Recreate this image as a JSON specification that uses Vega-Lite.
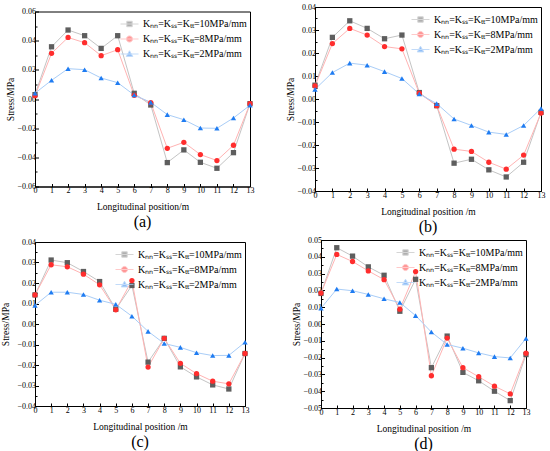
{
  "$schema": "https://vega.github.io/schema/vega-lite/v6.json",
  "padding": {"left": 0, "top": 2, "right": 5, "bottom": 0},
  "background": "white",
  "data": {"values": [
    {"p":"a","s":"k10","x":0,"y":0.003},{"p":"a","s":"k10","x":1,"y":0.0358},{"p":"a","s":"k10","x":2,"y":0.0473},{"p":"a","s":"k10","x":3,"y":0.0434},{"p":"a","s":"k10","x":4,"y":0.0347},{"p":"a","s":"k10","x":5,"y":0.0434},{"p":"a","s":"k10","x":6,"y":0.0039},{"p":"a","s":"k10","x":7,"y":-0.0041},{"p":"a","s":"k10","x":8,"y":-0.0436},{"p":"a","s":"k10","x":9,"y":-0.0349},{"p":"a","s":"k10","x":10,"y":-0.0434},{"p":"a","s":"k10","x":11,"y":-0.0475},{"p":"a","s":"k10","x":12,"y":-0.0368},{"p":"a","s":"k10","x":13,"y":-0.0032},
    {"p":"a","s":"k8","x":0,"y":0.0022},{"p":"a","s":"k8","x":1,"y":0.0313},{"p":"a","s":"k8","x":2,"y":0.0422},{"p":"a","s":"k8","x":3,"y":0.0386},{"p":"a","s":"k8","x":4,"y":0.0297},{"p":"a","s":"k8","x":5,"y":0.0338},{"p":"a","s":"k8","x":6,"y":0.0025},{"p":"a","s":"k8","x":7,"y":-0.0025},{"p":"a","s":"k8","x":8,"y":-0.0338},{"p":"a","s":"k8","x":9,"y":-0.0297},{"p":"a","s":"k8","x":10,"y":-0.0381},{"p":"a","s":"k8","x":11,"y":-0.0422},{"p":"a","s":"k8","x":12,"y":-0.0317},{"p":"a","s":"k8","x":13,"y":-0.0032},
    {"p":"a","s":"k2","x":0,"y":0.004},{"p":"a","s":"k2","x":1,"y":0.0128},{"p":"a","s":"k2","x":2,"y":0.0208},{"p":"a","s":"k2","x":3,"y":0.0201},{"p":"a","s":"k2","x":4,"y":0.0144},{"p":"a","s":"k2","x":5,"y":0.0112},{"p":"a","s":"k2","x":6,"y":0.0027},{"p":"a","s":"k2","x":7,"y":-0.0023},{"p":"a","s":"k2","x":8,"y":-0.0107},{"p":"a","s":"k2","x":9,"y":-0.0142},{"p":"a","s":"k2","x":10,"y":-0.0199},{"p":"a","s":"k2","x":11,"y":-0.0201},{"p":"a","s":"k2","x":12,"y":-0.013},{"p":"a","s":"k2","x":13,"y":-0.0043},
    {"p":"b","s":"k10","x":0,"y":0.006},{"p":"b","s":"k10","x":1,"y":0.0268},{"p":"b","s":"k10","x":2,"y":0.034},{"p":"b","s":"k10","x":3,"y":0.0307},{"p":"b","s":"k10","x":4,"y":0.0262},{"p":"b","s":"k10","x":5,"y":0.0278},{"p":"b","s":"k10","x":6,"y":0.0028},{"p":"b","s":"k10","x":7,"y":-0.0029},{"p":"b","s":"k10","x":8,"y":-0.0279},{"p":"b","s":"k10","x":9,"y":-0.0262},{"p":"b","s":"k10","x":10,"y":-0.0308},{"p":"b","s":"k10","x":11,"y":-0.0339},{"p":"b","s":"k10","x":12,"y":-0.0275},{"p":"b","s":"k10","x":13,"y":-0.0058},
    {"p":"b","s":"k8","x":0,"y":0.0057},{"p":"b","s":"k8","x":1,"y":0.0241},{"p":"b","s":"k8","x":2,"y":0.0307},{"p":"b","s":"k8","x":3,"y":0.0278},{"p":"b","s":"k8","x":4,"y":0.0228},{"p":"b","s":"k8","x":5,"y":0.0218},{"p":"b","s":"k8","x":6,"y":0.0025},{"p":"b","s":"k8","x":7,"y":-0.0029},{"p":"b","s":"k8","x":8,"y":-0.0218},{"p":"b","s":"k8","x":9,"y":-0.0228},{"p":"b","s":"k8","x":10,"y":-0.0275},{"p":"b","s":"k8","x":11,"y":-0.0305},{"p":"b","s":"k8","x":12,"y":-0.0244},{"p":"b","s":"k8","x":13,"y":-0.0061},
    {"p":"b","s":"k2","x":0,"y":0.0042},{"p":"b","s":"k2","x":1,"y":0.0115},{"p":"b","s":"k2","x":2,"y":0.0156},{"p":"b","s":"k2","x":3,"y":0.0147},{"p":"b","s":"k2","x":4,"y":0.0119},{"p":"b","s":"k2","x":5,"y":0.0089},{"p":"b","s":"k2","x":6,"y":0.0022},{"p":"b","s":"k2","x":7,"y":-0.002},{"p":"b","s":"k2","x":8,"y":-0.0087},{"p":"b","s":"k2","x":9,"y":-0.0115},{"p":"b","s":"k2","x":10,"y":-0.0144},{"p":"b","s":"k2","x":11,"y":-0.0154},{"p":"b","s":"k2","x":12,"y":-0.0115},{"p":"b","s":"k2","x":13,"y":-0.0041},
    {"p":"c","s":"k10","x":0,"y":0.0142},{"p":"c","s":"k10","x":1,"y":0.0312},{"p":"c","s":"k10","x":2,"y":0.0299},{"p":"c","s":"k10","x":3,"y":0.0256},{"p":"c","s":"k10","x":4,"y":0.0207},{"p":"c","s":"k10","x":5,"y":0.0072},{"p":"c","s":"k10","x":6,"y":0.0188},{"p":"c","s":"k10","x":7,"y":-0.0186},{"p":"c","s":"k10","x":8,"y":-0.007},{"p":"c","s":"k10","x":9,"y":-0.0209},{"p":"c","s":"k10","x":10,"y":-0.0258},{"p":"c","s":"k10","x":11,"y":-0.0297},{"p":"c","s":"k10","x":12,"y":-0.0317},{"p":"c","s":"k10","x":13,"y":-0.0144},
    {"p":"c","s":"k8","x":0,"y":0.0142},{"p":"c","s":"k8","x":1,"y":0.0289},{"p":"c","s":"k8","x":2,"y":0.0279},{"p":"c","s":"k8","x":3,"y":0.0243},{"p":"c","s":"k8","x":4,"y":0.0191},{"p":"c","s":"k8","x":5,"y":0.0069},{"p":"c","s":"k8","x":6,"y":0.0212},{"p":"c","s":"k8","x":7,"y":-0.021},{"p":"c","s":"k8","x":8,"y":-0.007},{"p":"c","s":"k8","x":9,"y":-0.0192},{"p":"c","s":"k8","x":10,"y":-0.0242},{"p":"c","s":"k8","x":11,"y":-0.0279},{"p":"c","s":"k8","x":12,"y":-0.0292},{"p":"c","s":"k8","x":13,"y":-0.0144},
    {"p":"c","s":"k2","x":0,"y":0.0091},{"p":"c","s":"k2","x":1,"y":0.0155},{"p":"c","s":"k2","x":2,"y":0.0155},{"p":"c","s":"k2","x":3,"y":0.0144},{"p":"c","s":"k2","x":4,"y":0.0116},{"p":"c","s":"k2","x":5,"y":0.0096},{"p":"c","s":"k2","x":6,"y":0.0038},{"p":"c","s":"k2","x":7,"y":-0.0036},{"p":"c","s":"k2","x":8,"y":-0.0095},{"p":"c","s":"k2","x":9,"y":-0.0114},{"p":"c","s":"k2","x":10,"y":-0.014},{"p":"c","s":"k2","x":11,"y":-0.0154},{"p":"c","s":"k2","x":12,"y":-0.0153},{"p":"c","s":"k2","x":13,"y":-0.0089},
    {"p":"d","s":"k10","x":0,"y":0.0182},{"p":"d","s":"k10","x":1,"y":0.0454},{"p":"d","s":"k10","x":2,"y":0.0404},{"p":"d","s":"k10","x":3,"y":0.034},{"p":"d","s":"k10","x":4,"y":0.029},{"p":"d","s":"k10","x":5,"y":0.0076},{"p":"d","s":"k10","x":6,"y":0.0266},{"p":"d","s":"k10","x":7,"y":-0.026},{"p":"d","s":"k10","x":8,"y":-0.0072},{"p":"d","s":"k10","x":9,"y":-0.0288},{"p":"d","s":"k10","x":10,"y":-0.0338},{"p":"d","s":"k10","x":11,"y":-0.04},{"p":"d","s":"k10","x":12,"y":-0.0456},{"p":"d","s":"k10","x":13,"y":-0.0182},
    {"p":"d","s":"k8","x":0,"y":0.0184},{"p":"d","s":"k8","x":1,"y":0.0414},{"p":"d","s":"k8","x":2,"y":0.0372},{"p":"d","s":"k8","x":3,"y":0.0316},{"p":"d","s":"k8","x":4,"y":0.0264},{"p":"d","s":"k8","x":5,"y":0.0088},{"p":"d","s":"k8","x":6,"y":0.0312},{"p":"d","s":"k8","x":7,"y":-0.0308},{"p":"d","s":"k8","x":8,"y":-0.0084},{"p":"d","s":"k8","x":9,"y":-0.026},{"p":"d","s":"k8","x":10,"y":-0.0314},{"p":"d","s":"k8","x":11,"y":-0.037},{"p":"d","s":"k8","x":12,"y":-0.0416},{"p":"d","s":"k8","x":13,"y":-0.0174},
    {"p":"d","s":"k2","x":0,"y":0.0094},{"p":"d","s":"k2","x":1,"y":0.0208},{"p":"d","s":"k2","x":2,"y":0.0198},{"p":"d","s":"k2","x":3,"y":0.0176},{"p":"d","s":"k2","x":4,"y":0.015},{"p":"d","s":"k2","x":5,"y":0.0128},{"p":"d","s":"k2","x":6,"y":0.005},{"p":"d","s":"k2","x":7,"y":-0.0048},{"p":"d","s":"k2","x":8,"y":-0.0122},{"p":"d","s":"k2","x":9,"y":-0.0144},{"p":"d","s":"k2","x":10,"y":-0.0172},{"p":"d","s":"k2","x":11,"y":-0.0194},{"p":"d","s":"k2","x":12,"y":-0.0202},{"p":"d","s":"k2","x":13,"y":-0.0086}
  ]},
  "resolve": {"scale": {"fill": "independent", "shape": "independent", "stroke": "independent"}, "legend": {"fill": "independent", "shape": "independent", "stroke": "independent"}},
  "vconcat": [
    {"resolve": {"scale": {"fill": "independent", "shape": "independent", "stroke": "independent"}, "legend": {"fill": "independent", "shape": "independent", "stroke": "independent"}},
     "center": true,
     "hconcat": [
      {"width": 215, "height": 175,
       "transform": [{"filter": "datum.p === 'a'"}],
       "title": {"text": "(a)"},
       "resolve": {"scale": {"fill": "independent", "shape": "independent", "stroke": "independent"}},
       "encoding": {
         "x": {"field": "x", "type": "quantitative", "scale": {"domain": [0, 13], "nice": false}, "axis": {"values": [0,1,2,3,4,5,6,7,8,9,10,11,12,13], "format": "d", "title": "Longitudinal position/m"}},
         "y": {"field": "y", "type": "quantitative", "scale": {"domain": [-0.06, 0.06], "nice": false}, "axis": {"values": [-0.06,-0.05,-0.04,-0.03,-0.02,-0.01,0,0.01,0.02,0.03,0.04,0.05,0.06], "format": ".2f", "title": "Stress/MPa", "labelOverlap": false, "labelExpr": "abs(round(datum.value * 100)) % 2 == 0 ? datum.label : ''", "tickSize": {"condition": {"test": "abs(round(datum.value * 100)) % 2 != 0", "value": -2}, "value": -3.5}}}
       },
       "layer": [
         {"mark": {"type": "line", "strokeWidth": 1}, "encoding": {"stroke": {"field": "s", "type": "nominal", "scale": {"domain": ["k10","k8","k2"], "range": ["#c4c4c4","#ffb3b3","#a9cdf7"]}, "legend": null}}},
         {"mark": {"type": "point", "filled": true, "size": 28, "opacity": 1}, "encoding": {
           "fill": {"field": "s", "type": "nominal", "scale": {"domain": ["k10","k8","k2"], "range": ["#5e5e5e","#ff2d2d","#1f7cf2"]}, "legend": null},
           "shape": {"field": "s", "type": "nominal", "scale": {"domain": ["k10","k8","k2"], "range": ["square","circle","triangle-up"]}, "legend": null}
         }},
         {"transform": [{"filter": "datum.x < -100"}],
          "mark": {"type": "point", "filled": true, "strokeWidth": 1},
          "encoding": {
           "fill": {"field": "s", "type": "nominal", "scale": {"domain": ["k10","k8","k2"], "range": ["#5e5e5e","#ff2d2d","#1f7cf2"]}, "legend": {"title": null, "orient": "top-right", "labelExpr": "'Kₙₙ=Kₛₛ=Kₜₜ=' + replace(datum.label, 'k', '') + 'MPa/mm'"}},
           "stroke": {"field": "s", "type": "nominal", "scale": {"domain": ["k10","k8","k2"], "range": ["#c4c4c4","#ffb3b3","#a9cdf7"]}, "legend": {"title": null, "orient": "top-right", "labelExpr": "'Kₙₙ=Kₛₛ=Kₜₜ=' + replace(datum.label, 'k', '') + 'MPa/mm'"}},
           "shape": {"field": "s", "type": "nominal", "scale": {"domain": ["k10","k8","k2"], "range": ["M-1,0H1M-0.3,-0.3H0.3V0.3H-0.3Z","M-1,0H1M-0.34,0A0.34,0.34 0 1,0 0.34,0A0.34,0.34 0 1,0 -0.34,0Z","M-1,0H1M0,-0.36L0.36,0.27H-0.36Z"]}, "legend": {"title": null, "orient": "top-right", "labelExpr": "'Kₙₙ=Kₛₛ=Kₜₜ=' + replace(datum.label, 'k', '') + 'MPa/mm'"}}
         }}
       ]},
      {"width": 226, "height": 184,
       "transform": [{"filter": "datum.p === 'b'"}],
       "title": {"text": "(b)"},
       "resolve": {"scale": {"fill": "independent", "shape": "independent", "stroke": "independent"}},
       "encoding": {
         "x": {"field": "x", "type": "quantitative", "scale": {"domain": [0, 13], "nice": false}, "axis": {"values": [0,1,2,3,4,5,6,7,8,9,10,11,12,13], "format": "d", "title": "Longitudinal position /m"}},
         "y": {"field": "y", "type": "quantitative", "scale": {"domain": [-0.04, 0.04], "nice": false}, "axis": {"values": [-0.04,-0.035,-0.03,-0.025,-0.02,-0.015,-0.01,-0.005,0,0.005,0.01,0.015,0.02,0.025,0.03,0.035,0.04], "format": ".2f", "title": "Stress/MPa", "labelOverlap": false, "labelExpr": "abs(round(datum.value * 1000)) % 10 == 0 ? datum.label : ''", "tickSize": {"condition": {"test": "abs(round(datum.value * 1000)) % 10 != 0", "value": -2}, "value": -3.5}}}
       },
       "layer": [
         {"mark": {"type": "line", "strokeWidth": 1}, "encoding": {"stroke": {"field": "s", "type": "nominal", "scale": {"domain": ["k10","k8","k2"], "range": ["#c4c4c4","#ffb3b3","#a9cdf7"]}, "legend": null}}},
         {"mark": {"type": "point", "filled": true, "size": 28, "opacity": 1}, "encoding": {
           "fill": {"field": "s", "type": "nominal", "scale": {"domain": ["k10","k8","k2"], "range": ["#5e5e5e","#ff2d2d","#1f7cf2"]}, "legend": null},
           "shape": {"field": "s", "type": "nominal", "scale": {"domain": ["k10","k8","k2"], "range": ["square","circle","triangle-up"]}, "legend": null}
         }},
         {"transform": [{"filter": "datum.x < -100"}],
          "mark": {"type": "point", "filled": true, "strokeWidth": 1},
          "encoding": {
           "fill": {"field": "s", "type": "nominal", "scale": {"domain": ["k10","k8","k2"], "range": ["#5e5e5e","#ff2d2d","#1f7cf2"]}, "legend": {"title": null, "orient": "top-right", "labelExpr": "'Kₙₙ=Kₛₛ=Kₜₜ=' + replace(datum.label, 'k', '') + 'MPa/mm'"}},
           "stroke": {"field": "s", "type": "nominal", "scale": {"domain": ["k10","k8","k2"], "range": ["#c4c4c4","#ffb3b3","#a9cdf7"]}, "legend": {"title": null, "orient": "top-right", "labelExpr": "'Kₙₙ=Kₛₛ=Kₜₜ=' + replace(datum.label, 'k', '') + 'MPa/mm'"}},
           "shape": {"field": "s", "type": "nominal", "scale": {"domain": ["k10","k8","k2"], "range": ["M-1,0H1M-0.3,-0.3H0.3V0.3H-0.3Z","M-1,0H1M-0.34,0A0.34,0.34 0 1,0 0.34,0A0.34,0.34 0 1,0 -0.34,0Z","M-1,0H1M0,-0.36L0.36,0.27H-0.36Z"]}, "legend": {"title": null, "orient": "top-right", "labelExpr": "'Kₙₙ=Kₛₛ=Kₜₜ=' + replace(datum.label, 'k', '') + 'MPa/mm'"}}
         }}
       ]}
    ], "spacing": 30},
    {"resolve": {"scale": {"fill": "independent", "shape": "independent", "stroke": "independent"}, "legend": {"fill": "independent", "shape": "independent", "stroke": "independent"}},
     "center": true,
     "hconcat": [
      {"width": 210, "height": 164,
       "transform": [{"filter": "datum.p === 'c'"}],
       "title": {"text": "(c)"},
       "resolve": {"scale": {"fill": "independent", "shape": "independent", "stroke": "independent"}},
       "encoding": {
         "x": {"field": "x", "type": "quantitative", "scale": {"domain": [0, 13], "nice": false}, "axis": {"values": [0,1,2,3,4,5,6,7,8,9,10,11,12,13], "format": "d", "title": "Longitudinal position /m"}},
         "y": {"field": "y", "type": "quantitative", "scale": {"domain": [-0.04, 0.04], "nice": false}, "axis": {"values": [-0.04,-0.035,-0.03,-0.025,-0.02,-0.015,-0.01,-0.005,0,0.005,0.01,0.015,0.02,0.025,0.03,0.035,0.04], "format": ".2f", "title": "Stress/MPa", "titlePadding": 6, "labelOverlap": false, "labelExpr": "abs(round(datum.value * 1000)) % 10 == 0 ? datum.label : ''", "tickSize": {"condition": {"test": "abs(round(datum.value * 1000)) % 10 != 0", "value": -2}, "value": -3.5}}}
       },
       "layer": [
         {"mark": {"type": "line", "strokeWidth": 1}, "encoding": {"stroke": {"field": "s", "type": "nominal", "scale": {"domain": ["k10","k8","k2"], "range": ["#c4c4c4","#ffb3b3","#a9cdf7"]}, "legend": null}}},
         {"mark": {"type": "point", "filled": true, "size": 28, "opacity": 1}, "encoding": {
           "fill": {"field": "s", "type": "nominal", "scale": {"domain": ["k10","k8","k2"], "range": ["#5e5e5e","#ff2d2d","#1f7cf2"]}, "legend": null},
           "shape": {"field": "s", "type": "nominal", "scale": {"domain": ["k10","k8","k2"], "range": ["square","circle","triangle-up"]}, "legend": null}
         }},
         {"transform": [{"filter": "datum.x < -100"}],
          "mark": {"type": "point", "filled": true, "strokeWidth": 1},
          "encoding": {
           "fill": {"field": "s", "type": "nominal", "scale": {"domain": ["k10","k8","k2"], "range": ["#5e5e5e","#ff2d2d","#1f7cf2"]}, "legend": {"title": null, "orient": "top-right", "labelExpr": "'Kₙₙ=Kₛₛ=Kₜₜ=' + replace(datum.label, 'k', '') + 'MPa/mm'"}},
           "stroke": {"field": "s", "type": "nominal", "scale": {"domain": ["k10","k8","k2"], "range": ["#c4c4c4","#ffb3b3","#a9cdf7"]}, "legend": {"title": null, "orient": "top-right", "labelExpr": "'Kₙₙ=Kₛₛ=Kₜₜ=' + replace(datum.label, 'k', '') + 'MPa/mm'"}},
           "shape": {"field": "s", "type": "nominal", "scale": {"domain": ["k10","k8","k2"], "range": ["M-1,0H1M-0.3,-0.3H0.3V0.3H-0.3Z","M-1,0H1M-0.34,0A0.34,0.34 0 1,0 0.34,0A0.34,0.34 0 1,0 -0.34,0Z","M-1,0H1M0,-0.36L0.36,0.27H-0.36Z"]}, "legend": {"title": null, "orient": "top-right", "labelExpr": "'Kₙₙ=Kₛₛ=Kₜₜ=' + replace(datum.label, 'k', '') + 'MPa/mm'"}}
         }}
       ]},
      {"width": 205, "height": 168,
       "transform": [{"filter": "datum.p === 'd'"}],
       "title": {"text": "(d)"},
       "resolve": {"scale": {"fill": "independent", "shape": "independent", "stroke": "independent"}},
       "encoding": {
         "x": {"field": "x", "type": "quantitative", "scale": {"domain": [0, 13], "nice": false}, "axis": {"values": [0,1,2,3,4,5,6,7,8,9,10,11,12,13], "format": "d", "title": "Longitudinal position /m"}},
         "y": {"field": "y", "type": "quantitative", "scale": {"domain": [-0.05, 0.05], "nice": false}, "axis": {"values": [-0.05,-0.045,-0.04,-0.035,-0.03,-0.025,-0.02,-0.015,-0.01,-0.005,0,0.005,0.01,0.015,0.02,0.025,0.03,0.035,0.04,0.045,0.05], "format": ".2f", "title": "Stress/MPa", "labelOverlap": false, "labelExpr": "abs(round(datum.value * 1000)) % 10 == 0 ? datum.label : ''", "tickSize": {"condition": {"test": "abs(round(datum.value * 1000)) % 10 != 0", "value": -2}, "value": -3.5}}}
       },
       "layer": [
         {"mark": {"type": "line", "strokeWidth": 1}, "encoding": {"stroke": {"field": "s", "type": "nominal", "scale": {"domain": ["k10","k8","k2"], "range": ["#c4c4c4","#ffb3b3","#a9cdf7"]}, "legend": null}}},
         {"mark": {"type": "point", "filled": true, "size": 28, "opacity": 1}, "encoding": {
           "fill": {"field": "s", "type": "nominal", "scale": {"domain": ["k10","k8","k2"], "range": ["#5e5e5e","#ff2d2d","#1f7cf2"]}, "legend": null},
           "shape": {"field": "s", "type": "nominal", "scale": {"domain": ["k10","k8","k2"], "range": ["square","circle","triangle-up"]}, "legend": null}
         }},
         {"transform": [{"filter": "datum.x < -100"}],
          "mark": {"type": "point", "filled": true, "strokeWidth": 1},
          "encoding": {
           "fill": {"field": "s", "type": "nominal", "scale": {"domain": ["k10","k8","k2"], "range": ["#5e5e5e","#ff2d2d","#1f7cf2"]}, "legend": {"title": null, "orient": "top-right", "labelExpr": "'Kₙₙ=Kₛₛ=Kₜₜ=' + replace(datum.label, 'k', '') + 'MPa/mm'"}},
           "stroke": {"field": "s", "type": "nominal", "scale": {"domain": ["k10","k8","k2"], "range": ["#c4c4c4","#ffb3b3","#a9cdf7"]}, "legend": {"title": null, "orient": "top-right", "labelExpr": "'Kₙₙ=Kₛₛ=Kₜₜ=' + replace(datum.label, 'k', '') + 'MPa/mm'"}},
           "shape": {"field": "s", "type": "nominal", "scale": {"domain": ["k10","k8","k2"], "range": ["M-1,0H1M-0.3,-0.3H0.3V0.3H-0.3Z","M-1,0H1M-0.34,0A0.34,0.34 0 1,0 0.34,0A0.34,0.34 0 1,0 -0.34,0Z","M-1,0H1M0,-0.36L0.36,0.27H-0.36Z"]}, "legend": {"title": null, "orient": "top-right", "labelExpr": "'Kₙₙ=Kₛₛ=Kₜₜ=' + replace(datum.label, 'k', '') + 'MPa/mm'"}}
         }}
       ]}
    ], "spacing": 41}
  ],
  "spacing": 0,
  "config": {
    "font": "Liberation Serif",
    "view": {"stroke": "#000000", "strokeWidth": 1},
    "axis": {"grid": false, "domainColor": "#000000", "tickColor": "#000000", "labelColor": "#000000", "titleColor": "#000000", "labelFont": "Liberation Serif", "titleFont": "Liberation Serif", "labelFontSize": 8, "titleFontSize": 9.5, "titleFontWeight": "normal", "tickSize": -3, "labelPadding": 3, "titlePadding": 1, "labelFlush": false},
    "axisX": {"titlePadding": 7},
    "legend": {"offset": 3, "padding": 0, "rowPadding": -5, "labelFont": "Liberation Serif", "labelFontSize": 10, "labelColor": "#000000", "symbolSize": 324, "symbolStrokeWidth": 1, "labelOffset": 4},
    "title": {"orient": "bottom", "font": "Liberation Serif", "fontSize": 16, "fontWeight": "normal", "color": "#000000", "offset": 3, "anchor": "middle"}
  }
}
